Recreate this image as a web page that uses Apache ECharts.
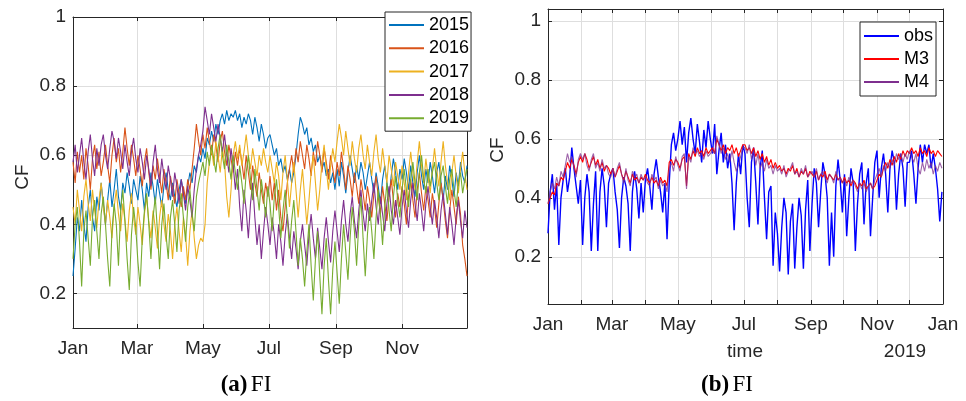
<!DOCTYPE html>
<html>
<head>
<meta charset="utf-8">
<script src="https://cdn.jsdelivr.net/npm/echarts@6/dist/echarts.min.js"></script>
<style>
html,body{margin:0;padding:0;background:#fff}
#chart{width:966px;height:401px}
</style>
</head>
<body>
<div id="chart"></div>
<script>
// Capacity factor (CF), Finland: one sample every second day of the year.
const sampleStepDays = 2;

// Calendar: day-of-year where each month starts, and its name
const monthStartDays = [0, 31, 59, 90, 120, 151, 181, 212, 243, 273, 304, 334, 365];
const monthNames = ['Jan', 'Feb', 'Mar', 'Apr', 'May', 'Jun', 'Jul', 'Aug', 'Sep', 'Oct', 'Nov', 'Dec', 'Jan'];
const labelDaysA = [0, 59, 120, 181, 243, 304];
const labelDaysB = [0, 59, 120, 181, 243, 304, 365];
const yTickValues = [0.2, 0.4, 0.6, 0.8, 1];

// (a) one line per year
const yearNames = ['2015', '2016', '2017', '2018', '2019'];
const yearColors = ['#0072BD', '#D95319', '#EDB120', '#7E2F8E', '#77AC30'];

const cf2015 = [
  0.25,0.33,0.42,0.38,0.47,0.40,0.35,0.45,0.50,0.42,0.38,0.48,0.44,0.52,0.46,0.40,
  0.47,0.53,0.45,0.50,0.56,0.48,0.44,0.52,0.49,0.55,0.51,0.46,0.53,0.50,
  0.47,0.54,0.50,0.44,0.52,0.48,0.55,0.51,0.46,0.53,0.49,0.45,0.51,0.55,0.50,0.47,
  0.52,0.48,0.45,0.50,0.53,0.49,0.46,0.51,0.55,0.52,0.57,0.55,0.60,0.58,
  0.62,0.59,0.65,0.63,0.67,0.64,0.69,0.66,0.70,0.72,0.69,0.73,0.70,0.72,0.71,0.73,
  0.70,0.72,0.68,0.71,0.69,0.72,0.70,0.66,0.71,0.68,0.64,0.69,0.66,0.62,0.65,
  0.66,0.63,0.60,0.62,0.57,0.59,0.55,0.57,0.53,0.56,0.52,0.55,0.60,0.66,0.71,0.69,
  0.66,0.68,0.63,0.65,0.61,0.63,0.58,0.60,0.56,0.58,0.54,0.56,0.52,0.55,0.50,
  0.56,0.51,0.58,0.54,0.49,0.55,0.60,0.56,0.52,0.57,0.53,0.58,0.55,0.50,0.54,
  0.58,0.53,0.49,0.55,0.51,0.46,0.53,0.57,0.52,0.48,0.54,0.59,0.55,0.50,0.56,
  0.53,0.59,0.55,0.50,0.57,0.52,0.48,0.55,0.60,0.54,0.50,0.56,0.52,0.58,0.54,
  0.49,0.55,0.58,0.52,0.47,0.54,0.50,0.57,0.53,0.48,0.55,0.51,0.58,0.54,0.52,0.57
];
const cf2016 = [
  0.58,0.52,0.61,0.55,0.60,0.53,0.62,0.57,0.50,0.59,0.63,0.56,0.61,0.54,0.58,0.63,
  0.57,0.52,0.60,0.65,0.58,0.62,0.55,0.61,0.68,0.62,0.57,0.63,0.59,0.54,
  0.60,0.56,0.51,0.58,0.62,0.55,0.50,0.57,0.53,0.59,0.54,0.49,0.56,0.52,0.47,0.54,
  0.50,0.46,0.53,0.49,0.45,0.51,0.47,0.53,0.50,0.56,0.62,0.69,0.64,0.60,
  0.66,0.62,0.68,0.64,0.60,0.66,0.63,0.58,0.64,0.67,0.61,0.57,0.63,0.59,0.55,0.61,
  0.57,0.62,0.58,0.53,0.60,0.55,0.50,0.57,0.52,0.48,0.55,0.50,0.46,0.52,0.48,
  0.54,0.47,0.52,0.44,0.50,0.42,0.38,0.45,0.52,0.56,0.60,0.55,0.62,0.58,0.64,0.60,
  0.56,0.63,0.59,0.54,0.61,0.57,0.64,0.60,0.55,0.62,0.58,0.53,0.60,0.56,0.52,
  0.58,0.54,0.61,0.56,0.50,0.57,0.53,0.48,0.55,0.51,0.46,0.53,0.49,0.44,0.51,
  0.47,0.42,0.49,0.54,0.48,0.43,0.51,0.46,0.41,0.48,0.53,0.47,0.42,0.49,0.45,
  0.51,0.46,0.40,0.48,0.53,0.47,0.42,0.50,0.55,0.49,0.44,0.51,0.47,0.42,0.49,
  0.45,0.39,0.46,0.52,0.47,0.41,0.36,0.44,0.50,0.45,0.40,0.48,0.43,0.34,0.30,0.25
];
const cf2017 = [
  0.45,0.40,0.50,0.44,0.38,0.48,0.53,0.46,0.41,0.50,0.44,0.39,0.47,0.52,0.45,0.40,
  0.47,0.42,0.36,0.45,0.50,0.43,0.38,0.46,0.41,0.35,0.44,0.49,0.42,0.37,
  0.45,0.40,0.34,0.43,0.48,0.41,0.36,0.44,0.39,0.33,0.42,0.47,0.40,0.35,0.43,0.38,
  0.30,0.40,0.45,0.38,0.32,0.42,0.37,0.28,0.38,0.44,0.36,0.30,0.34,0.36,
  0.35,0.40,0.52,0.58,0.62,0.57,0.64,0.60,0.55,0.62,0.58,0.48,0.42,0.50,0.60,0.64,
  0.59,0.63,0.57,0.61,0.66,0.60,0.56,0.62,0.58,0.54,0.60,0.57,0.62,0.58,0.55,
  0.60,0.56,0.52,0.58,0.54,0.47,0.55,0.60,0.53,0.45,0.52,0.58,0.50,0.42,0.50,0.56,
  0.48,0.40,0.47,0.55,0.60,0.52,0.44,0.50,0.58,0.63,0.56,0.50,0.57,0.62,0.58,
  0.64,0.69,0.65,0.60,0.67,0.62,0.57,0.64,0.59,0.55,0.62,0.66,0.60,0.56,0.63,
  0.58,0.54,0.61,0.66,0.59,0.55,0.62,0.57,0.52,0.60,0.56,0.51,0.58,0.54,0.50,
  0.57,0.52,0.47,0.55,0.61,0.55,0.50,0.58,0.64,0.57,0.52,0.59,0.54,0.49,0.56,
  0.62,0.56,0.51,0.58,0.64,0.57,0.52,0.47,0.55,0.60,0.54,0.49,0.56,0.61,0.55,0.50
];
const cf2018 = [
  0.58,0.63,0.55,0.60,0.65,0.58,0.53,0.61,0.66,0.59,0.54,0.62,0.57,0.63,0.66,0.60,
  0.56,0.62,0.67,0.64,0.59,0.65,0.61,0.56,0.63,0.58,0.54,0.61,0.65,0.59,
  0.55,0.62,0.58,0.53,0.60,0.56,0.51,0.58,0.63,0.56,0.52,0.59,0.54,0.50,0.57,0.53,
  0.48,0.55,0.51,0.46,0.53,0.49,0.44,0.51,0.47,0.42,0.50,0.56,0.60,0.63,
  0.67,0.74,0.70,0.66,0.72,0.68,0.64,0.69,0.65,0.61,0.66,0.60,0.55,0.62,0.57,0.50,
  0.56,0.45,0.38,0.50,0.44,0.36,0.46,0.52,0.42,0.34,0.40,0.30,0.38,0.45,0.40,
  0.34,0.42,0.37,0.30,0.40,0.35,0.28,0.37,0.43,0.36,0.30,0.38,0.33,0.27,0.35,0.40,
  0.34,0.28,0.37,0.43,0.36,0.30,0.39,0.33,0.27,0.36,0.42,0.35,0.29,0.38,0.44,
  0.38,0.32,0.41,0.47,0.40,0.35,0.43,0.48,0.41,0.36,0.44,0.50,0.43,0.38,0.46,
  0.41,0.47,0.52,0.45,0.40,0.48,0.43,0.38,0.46,0.51,0.44,0.40,0.47,0.42,0.37,
  0.45,0.50,0.44,0.39,0.47,0.52,0.46,0.41,0.49,0.44,0.38,0.46,0.51,0.45,0.40,
  0.47,0.42,0.36,0.44,0.49,0.43,0.37,0.45,0.40,0.34,0.42,0.47,0.41,0.36,0.44,0.39
];
const cf2019 = [
  0.30,0.40,0.45,0.35,0.22,0.38,0.44,0.36,0.28,0.42,0.47,0.38,0.30,0.43,0.48,0.40,
  0.30,0.22,0.38,0.46,0.40,0.28,0.44,0.50,0.41,0.30,0.21,0.37,0.45,0.39,
  0.29,0.22,0.36,0.44,0.49,0.40,0.30,0.42,0.48,0.38,0.27,0.40,0.46,0.37,0.30,0.42,
  0.47,0.40,0.32,0.44,0.49,0.42,0.35,0.45,0.50,0.43,0.38,0.48,0.52,0.55,
  0.58,0.54,0.61,0.57,0.63,0.59,0.55,0.62,0.66,0.60,0.56,0.63,0.58,0.53,0.60,0.55,
  0.50,0.57,0.52,0.46,0.55,0.60,0.53,0.47,0.56,0.50,0.44,0.53,0.48,0.42,0.51,
  0.46,0.38,0.48,0.53,0.45,0.36,0.44,0.50,0.42,0.33,0.41,0.47,0.38,0.28,0.36,0.30,
  0.22,0.32,0.40,0.28,0.18,0.30,0.38,0.25,0.14,0.28,0.36,0.24,0.14,0.27,0.35,
  0.26,0.17,0.30,0.40,0.32,0.24,0.36,0.45,0.38,0.28,0.40,0.48,0.36,0.25,0.37,
  0.45,0.38,0.30,0.42,0.50,0.43,0.34,0.45,0.52,0.44,0.38,0.48,0.54,0.47,0.42,
  0.50,0.56,0.50,0.45,0.53,0.58,0.52,0.47,0.55,0.60,0.53,0.49,0.56,0.51,0.55,
  0.58,0.52,0.47,0.54,0.57,0.51,0.46,0.53,0.56,0.50,0.45,0.52,0.55,0.49,0.53,0.56
];
const yearSeries = [cf2015, cf2016, cf2017, cf2018, cf2019];

// (b) 2018 observations against two models
const modelNames = ['obs', 'M3', 'M4'];
const modelColors = ['#0000FF', '#FF0000', '#7E2F8E'];

const obs2018 = [
  0.28,0.42,0.48,0.36,0.45,0.24,0.40,0.46,0.50,0.42,0.47,0.57,0.50,0.44,0.38,0.46,
  0.24,0.40,0.48,0.42,0.22,0.38,0.49,0.22,0.42,0.50,0.44,0.30,0.45,0.48,
  0.50,0.42,0.36,0.23,0.40,0.47,0.44,0.38,0.22,0.42,0.49,0.43,0.33,0.45,0.35,0.46,
  0.50,0.44,0.36,0.48,0.53,0.47,0.42,0.35,0.45,0.26,0.45,0.58,0.62,0.56,
  0.60,0.66,0.58,0.64,0.52,0.62,0.67,0.60,0.55,0.65,0.59,0.52,0.63,0.57,0.66,0.60,
  0.55,0.65,0.48,0.56,0.62,0.52,0.58,0.50,0.55,0.45,0.29,0.45,0.55,0.48,0.58,
  0.55,0.40,0.30,0.52,0.57,0.45,0.31,0.50,0.56,0.40,0.26,0.42,0.44,0.17,0.35,0.28,
  0.15,0.30,0.40,0.35,0.14,0.32,0.38,0.16,0.30,0.40,0.34,0.16,0.36,0.46,0.22,
  0.38,0.50,0.45,0.30,0.42,0.52,0.48,0.40,0.17,0.35,0.20,0.44,0.53,0.46,0.35,
  0.48,0.27,0.40,0.50,0.45,0.22,0.38,0.48,0.52,0.31,0.45,0.50,0.27,0.40,0.52,
  0.56,0.40,0.50,0.55,0.48,0.35,0.50,0.56,0.52,0.36,0.48,0.55,0.50,0.37,0.52,
  0.52,0.56,0.48,0.38,0.50,0.58,0.52,0.58,0.55,0.58,0.50,0.55,0.50,0.43,0.32,0.42
];
const m3_2018 = [
  0.38,0.40,0.42,0.41,0.45,0.44,0.47,0.46,0.49,0.52,0.50,0.53,0.51,0.48,0.52,0.54,
  0.52,0.55,0.53,0.50,0.52,0.54,0.51,0.53,0.50,0.52,0.49,0.51,0.50,0.48,
  0.50,0.47,0.49,0.51,0.48,0.46,0.49,0.47,0.45,0.48,0.46,0.47,0.45,0.47,0.46,0.48,
  0.46,0.45,0.47,0.45,0.46,0.44,0.47,0.45,0.46,0.44,0.52,0.53,0.51,0.53,
  0.52,0.50,0.53,0.54,0.44,0.55,0.53,0.56,0.54,0.57,0.55,0.56,0.54,0.57,0.55,0.56,
  0.57,0.55,0.60,0.58,0.56,0.58,0.55,0.57,0.56,0.58,0.55,0.57,0.54,0.56,0.58,
  0.58,0.56,0.57,0.55,0.57,0.54,0.56,0.53,0.55,0.52,0.54,0.51,0.53,0.50,0.52,0.50,
  0.51,0.49,0.50,0.48,0.50,0.49,0.51,0.48,0.50,0.47,0.49,0.48,0.50,0.47,0.49,
  0.48,0.47,0.49,0.46,0.48,0.47,0.49,0.46,0.48,0.47,0.46,0.48,0.46,0.47,0.45,
  0.47,0.45,0.46,0.44,0.46,0.45,0.43,0.45,0.44,0.46,0.43,0.44,0.45,0.43,0.44,
  0.46,0.48,0.47,0.50,0.52,0.50,0.53,0.51,0.54,0.52,0.55,0.53,0.56,0.54,0.56,
  0.55,0.57,0.55,0.56,0.54,0.57,0.55,0.56,0.54,0.57,0.55,0.56,0.54,0.56,0.55,0.54
];
const m4_2018 = [
  0.38,0.42,0.45,0.43,0.47,0.44,0.49,0.47,0.51,0.55,0.52,0.54,0.50,0.47,0.53,0.55,
  0.53,0.55,0.51,0.49,0.53,0.55,0.50,0.52,0.49,0.53,0.50,0.51,0.48,0.47,
  0.50,0.47,0.50,0.52,0.48,0.45,0.50,0.46,0.44,0.49,0.47,0.48,0.45,0.48,0.46,0.47,
  0.45,0.44,0.48,0.46,0.47,0.43,0.46,0.44,0.45,0.42,0.50,0.52,0.49,0.54,
  0.51,0.49,0.54,0.55,0.43,0.54,0.52,0.57,0.55,0.56,0.54,0.55,0.53,0.56,0.54,0.55,
  0.56,0.55,0.61,0.58,0.55,0.57,0.53,0.55,0.52,0.56,0.52,0.49,0.51,0.54,0.57,
  0.57,0.55,0.58,0.53,0.56,0.51,0.55,0.50,0.52,0.49,0.53,0.50,0.51,0.48,0.51,0.49,
  0.50,0.48,0.51,0.47,0.49,0.50,0.52,0.48,0.49,0.47,0.50,0.48,0.51,0.47,0.48,
  0.49,0.47,0.50,0.46,0.48,0.49,0.47,0.45,0.48,0.47,0.45,0.49,0.46,0.47,0.45,
  0.46,0.44,0.47,0.45,0.46,0.44,0.42,0.45,0.43,0.45,0.42,0.44,0.45,0.43,0.46,
  0.48,0.50,0.47,0.51,0.49,0.52,0.50,0.53,0.51,0.55,0.53,0.55,0.52,0.55,0.53,
  0.56,0.54,0.52,0.55,0.50,0.48,0.52,0.49,0.53,0.50,0.52,0.48,0.51,0.49,0.52,0.50
];
const modelSeries = [obs2018, m3_2018, m4_2018];

// ---- styling ----
const SANS = '"Liberation Sans", Arial, Helvetica, sans-serif';
const SERIF = '"Liberation Serif", "DejaVu Serif", serif';
const AXIS = '#262626';
const GRID = '#dedede';
const FONT_SIZE = 19;

const toPairs = arr => arr.map((v, i) => [i * sampleStepDays, v]);
const monthLabel = d => {
  const i = monthStartDays.indexOf(Math.round(d));
  return i >= 0 ? monthNames[i] : '';
};

function xAxes(gridIndex, max, tickDays, labelDays) {
  const common = {
    type: 'value', gridIndex, min: 0, max,
    axisLine: { show: true, onZero: false, lineStyle: { color: AXIS, width: 1 } },
    axisTick: { show: true, inside: true, length: 4, customValues: tickDays, lineStyle: { color: AXIS } }
  };
  return [
    Object.assign({}, common, {
      position: 'bottom',
      axisLabel: { customValues: labelDays, formatter: monthLabel, color: AXIS, fontSize: FONT_SIZE, fontFamily: SANS, margin: 11 },
      splitLine: { show: true, lineStyle: { color: GRID, width: 1 } }
    }),
    Object.assign({}, common, {
      position: 'top',
      axisLabel: { show: false },
      splitLine: { show: false }
    })
  ];
}

function yAxes(gridIndex, min, max) {
  const common = {
    type: 'value', gridIndex, min, max,
    axisLine: { show: true, onZero: false, lineStyle: { color: AXIS, width: 1 } },
    axisTick: { show: true, inside: true, length: 4, customValues: yTickValues, lineStyle: { color: AXIS } }
  };
  return [
    Object.assign({}, common, {
      position: 'left',
      axisLabel: { customValues: yTickValues, formatter: v => String(Math.round(v * 10) / 10), color: AXIS, fontSize: FONT_SIZE, fontFamily: SANS, margin: 7 },
      splitLine: { show: true, lineStyle: { color: GRID, width: 1 } }
    }),
    Object.assign({}, common, {
      position: 'right',
      axisLabel: { show: false },
      splitLine: { show: false }
    })
  ];
}

const series = [];
yearNames.forEach((name, k) => {
  series.push({
    name, type: 'line', xAxisIndex: 0, yAxisIndex: 0,
    data: toPairs(yearSeries[k]), showSymbol: false, symbol: 'none',
    color: yearColors[k], lineStyle: { width: 1.1, color: yearColors[k] }
  });
});
modelNames.forEach((name, k) => {
  series.push({
    name, type: 'line', xAxisIndex: 2, yAxisIndex: 2,
    data: toPairs(modelSeries[k]), showSymbol: false, symbol: 'none',
    color: modelColors[k],
    lineStyle: { width: k === 0 ? 1.4 : 1.1, color: modelColors[k], opacity: k === 2 ? 0.75 : 1 }
  });
});

const legendBase = {
  orient: 'vertical', icon: 'rect', itemWidth: 35, itemHeight: 2,
  backgroundColor: '#fff', borderColor: AXIS, borderWidth: 1, borderRadius: 0,
  textStyle: { fontSize: 18, fontFamily: SANS, color: '#000', lineHeight: 18 },
  selectedMode: false
};

const captionRich = {
  b: { font: 'bold 23px ' + SERIF, fill: '#000' },
  r: { font: '23px ' + SERIF, fill: '#000' }
};

const chart = echarts.init(document.getElementById('chart'), null, { renderer: 'canvas' });
chart.setOption({
  animation: false,
  backgroundColor: '#fff',
  grid: [
    { left: 73, top: 17, width: 394, height: 311 },
    { left: 548, top: 9, width: 395, height: 295 }
  ],
  xAxis: [].concat(xAxes(0, 364, labelDaysA, labelDaysA), xAxes(1, 365, monthStartDays, labelDaysB)),
  yAxis: [].concat(yAxes(0, 0.1, 1), yAxes(1, 0.04, 1.04)),
  legend: [
    Object.assign({}, legendBase, { data: yearNames, left: 385, top: 12, padding: [4, 2, 4, 4], itemGap: 5.3 }),
    Object.assign({}, legendBase, { data: modelNames, left: 860, top: 22, padding: [5, 3, 5, 4], itemGap: 5 })
  ],
  graphic: [
    { type: 'text', x: 23, y: 177, rotation: Math.PI / 2,
      style: { text: 'CF', font: FONT_SIZE + 'px ' + SANS, fill: AXIS, align: 'center', verticalAlign: 'middle' } },
    { type: 'text', x: 498, y: 150, rotation: Math.PI / 2,
      style: { text: 'CF', font: FONT_SIZE + 'px ' + SANS, fill: AXIS, align: 'center', verticalAlign: 'middle' } },
    { type: 'text', x: 745, y: 352,
      style: { text: 'time', font: FONT_SIZE + 'px ' + SANS, fill: AXIS, align: 'center', verticalAlign: 'middle' } },
    { type: 'text', x: 905, y: 352,
      style: { text: '2019', font: FONT_SIZE + 'px ' + SANS, fill: AXIS, align: 'center', verticalAlign: 'middle' } },
    { type: 'text', x: 246, y: 385,
      style: { text: '{b|(a)} {r|FI}', align: 'center', verticalAlign: 'middle', fill: '#000', rich: captionRich } },
    { type: 'text', x: 727, y: 385,
      style: { text: '{b|(b)} {r|FI}', align: 'center', verticalAlign: 'middle', fill: '#000', rich: captionRich } }
  ],
  series
});
</script>
</body>
</html>
